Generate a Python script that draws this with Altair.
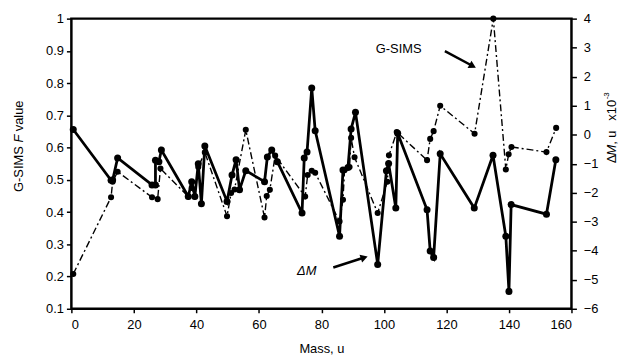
import altair as alt
import pandas as pd

# Delta M series (right axis, x10^-3 u)
dm_mass = [0.6, 12.7, 13.2, 14.8, 25.8, 26.9, 26.9, 28.0, 28.8, 37.4, 38.5, 39.5, 40.6, 41.6, 42.7,
           49.8, 51.4, 52.7, 53.8, 55.8, 61.8, 62.7, 64.1, 65.9, 73.8, 74.5, 75.4, 76.9, 78.0,
           85.8, 86.9, 88.5, 89.5, 90.9, 98.0, 100.8, 101.5, 103.8, 104.4, 113.8, 114.8, 115.9,
           118.0, 128.9, 134.9, 139.0, 140.0, 140.7, 152.0, 155.0]
dm_value = [0.18, -1.57, -1.56, -0.80, -1.73, -1.73, -0.88, -0.93, -0.53, -2.13, -1.62, -2.13, -1.00, -2.38, -0.39,
            -2.30, -1.39, -0.86, -1.90, -1.24, -1.62, -0.77, -0.53, -0.93, -2.70, -0.80, -0.60, 1.61, 0.14,
            -3.50, -1.22, -1.13, 0.20, 0.77, -4.47, -1.24, -0.99, -2.53, 0.05, -2.59, -4.01, -4.23,
            -0.66, -2.53, -0.71, -3.50, -5.40, -2.41, -2.74, -0.86]

# G-SIMS F value series (left axis)
f_mass = [0.6, 12.7, 13.2, 14.8, 25.8, 27.6, 28.5, 37.4, 38.5, 39.5, 40.6, 42.7, 49.8, 51.1, 52.2,
          55.8, 61.8, 62.5, 63.5, 65.2, 74.8, 75.6, 76.9, 78.0, 85.8, 86.9, 87.4, 89.0, 89.5, 90.6,
          98.0, 101.1, 101.6, 104.1, 113.8, 114.8, 115.9, 118.0, 129.0, 135.0, 139.0, 139.9, 140.8,
          152.0, 155.1]
f_value = [0.208, 0.446, 0.494, 0.525, 0.446, 0.440, 0.535, 0.448, 0.475, 0.448, 0.540, 0.585, 0.387, 0.459, 0.470,
           0.655, 0.383, 0.450, 0.469, 0.575, 0.448, 0.515, 0.528, 0.522, 0.371, 0.438, 0.530, 0.540, 0.630, 0.570,
           0.397, 0.494, 0.576, 0.648, 0.561, 0.627, 0.651, 0.730, 0.643, 1.000, 0.532, 0.579, 0.602,
           0.586, 0.661]

# Annotations (left-axis data space)
gsims_label = ["G-SIMS"]
gsims_mass = [104.7]
gsims_f = [0.905]
dm_label = ["ΔM"]
dm_label_mass = [75.3]
dm_label_f = [0.217]
arrow_id = ["g", "g", "d", "d"]
arrow_mass = [119.5, 128.4, 83.8, 93.7]
arrow_f = [0.899, 0.853, 0.228, 0.259]
head_mass = [128.4, 93.7]
head_f = [0.853, 0.259]
head_angle = [28, 342]

left_ticks = [0.1, 0.2, 0.3, 0.4, 0.5, 0.6, 0.7, 0.8, 0.9, 1.0]
right_ticks = [-6, -5, -4, -3, -2, -1, 0, 1, 2, 3, 4]
x_ticks = [0, 20, 40, 60, 80, 100, 120, 140, 160]

FONT = "Liberation Sans"

dm_df = pd.DataFrame({"mass": dm_mass, "dm": dm_value, "order": list(range(len(dm_mass)))})
f_df = pd.DataFrame({"mass": f_mass, "f": f_value, "order": list(range(len(f_mass)))})
g_df = pd.DataFrame({"mass": gsims_mass, "f": gsims_f, "text": gsims_label})
d_df = pd.DataFrame({"mass": dm_label_mass, "f": dm_label_f, "text": dm_label})
arr_df = pd.DataFrame({"mass": arrow_mass, "f": arrow_f, "id": arrow_id})
head_df = pd.DataFrame({"mass": head_mass, "f": head_f, "ang": head_angle})

xscale = alt.Scale(domain=[0, 160], nice=False, zero=False)
lscale = alt.Scale(domain=[0.1, 1.0], nice=False, zero=False)
rscale = alt.Scale(domain=[-6, 4], nice=False, zero=False)

xaxis = alt.Axis(values=x_ticks, title="Mass, u", labelFontSize=13, titleFontSize=13,
                 titleFontWeight="normal", tickSize=4, tickWidth=1.5, tickColor="black",
                 domain=False, grid=False, labelPadding=6, titlePadding=11,
                 labelColor="black", titleColor="black", labelFont=FONT, titleFont=FONT)
laxis = alt.Axis(values=left_ticks, format="~g", title=None, orient="left", labelFontSize=13,
                 tickSize=5, tickWidth=1.5, tickColor="black", domain=False, grid=False,
                 labelPadding=3, labelColor="black", labelFont=FONT)
raxis = alt.Axis(values=right_ticks, format="d", title=None, orient="right", labelFontSize=13,
                 tickSize=5, tickWidth=1.5, tickColor="black", domain=False, grid=False,
                 labelPadding=7, labelColor="black", labelFont=FONT)

xenc = alt.X("mass:Q", scale=xscale, axis=xaxis)
yl = alt.Y("f:Q", scale=lscale, axis=laxis)
yr = alt.Y("dm:Q", scale=rscale, axis=raxis)

f_line = alt.Chart(f_df).mark_line(color="black", strokeWidth=1.4, strokeDash=[7, 3, 2, 3]).encode(
    x=xenc, y=yl, order="order:Q")
f_pts = alt.Chart(f_df).mark_point(filled=True, color="black", size=38, opacity=1).encode(x=xenc, y=yl)

g_text = alt.Chart(g_df).mark_text(font=FONT, fontSize=13, color="black").encode(
    x=xenc, y=yl, text="text:N")
d_text = alt.Chart(d_df).mark_text(font=FONT, fontSize=13, fontStyle="italic", color="black").encode(
    x=xenc, y=yl, text="text:N")
arrows = alt.Chart(arr_df).mark_line(color="black", strokeWidth=2.5).encode(
    x=xenc, y=yl, detail="id:N")
heads = alt.Chart(head_df).mark_point(shape="triangle-right", filled=True, color="black", size=70, opacity=1).encode(
    x=xenc, y=yl, angle=alt.Angle("ang:Q", scale=None))


# Axis titles built from text pieces (for italics / superscript)
def piece(txt, x, y, style="normal", size=13, dy=0):
    return alt.Chart(pd.DataFrame({"t": [txt]})).mark_text(
        font=FONT, fontSize=size, fontStyle=style, angle=270, align="left", baseline="middle",
        color="black", dy=dy).encode(x=alt.value(x), y=alt.value(y), text="t:N")


lx = -52.5
lt = [piece("G-SIMS", lx, 175), piece("F", lx, 125.2, "italic"), piece("value", lx, 113.7)]
rx = 546
rt = [piece("Δ", rx, 146), piece("M", rx, 138.2, "italic"), piece(", u", rx, 127.4),
      piece("x10", rx, 103), piece("-3", rx, 81.5, size=8, dy=-5)]

left = alt.layer(f_line, f_pts, g_text, d_text, arrows, heads, *lt, *rt)

dm_line = alt.Chart(dm_df).mark_line(color="black", strokeWidth=2.8).encode(
    x=xenc, y=yr, order="order:Q")
dm_pts = alt.Chart(dm_df).mark_point(filled=True, color="black", size=50, opacity=1).encode(x=xenc, y=yr)

right = alt.layer(dm_line, dm_pts)

chart = alt.layer(left, right).resolve_scale(y="independent").properties(
    width=505, height=293,
    autosize=alt.AutoSizeParams(type="none"),
    padding={"left": 64, "top": 9, "right": 48, "bottom": 52},
    background="white",
).configure_view(stroke="black", strokeWidth=2.5)

chart.save("out.html", embed_options={"renderer": "svg", "actions": False})
